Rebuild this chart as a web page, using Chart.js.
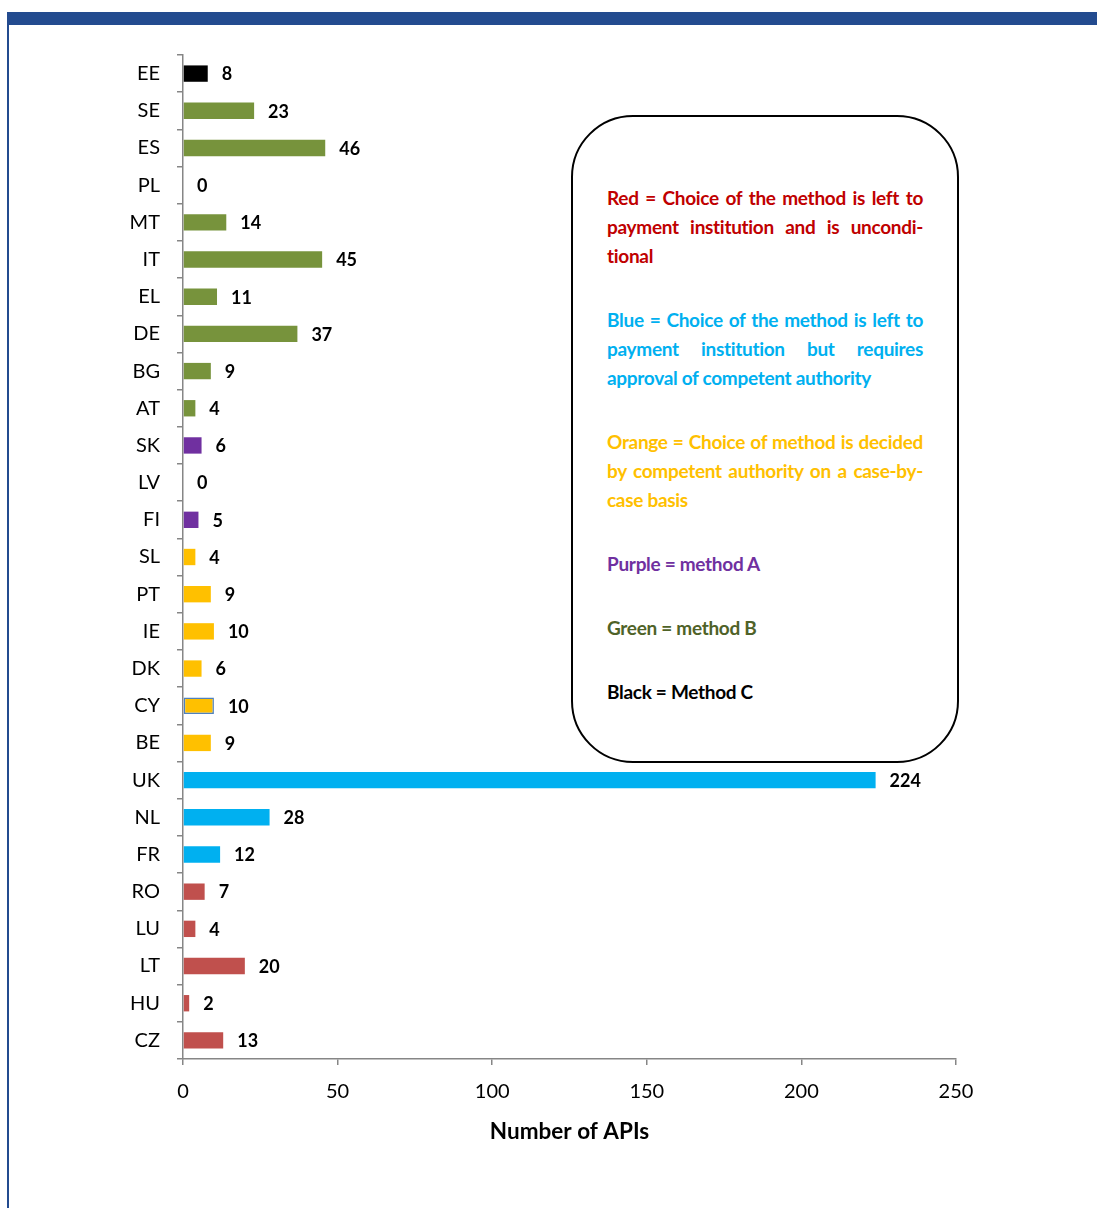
<!DOCTYPE html>
<html>
<head>
<meta charset="utf-8">
<script src="https://cdn.jsdelivr.net/npm/chart.js@4.4.1/dist/chart.umd.min.js"></script>
<style>
    body { margin: 0; background: #fff; }
    #wrap { position: relative; width: 1097px; height: 1208px; overflow: hidden; font-family: Lato, sans-serif; }
    #topBar { position: absolute; left: 7px; top: 12px; width: 1090px; height: 13px; background: #234B8F; }
    #leftBar { position: absolute; left: 7px; top: 12px; width: 2px; height: 1196px; background: #234B8F; }
    #chart { position: absolute; left: 0; top: 0; }
    #legendBox {
        position: absolute; left: 571px; top: 115px; width: 384px; height: 644px;
        border: 2px solid #000; border-radius: 62px; background: #fff;
    }
    #legendText {
        position: absolute; left: 34px; top: 66px; width: 316px;
        font-weight: bold; font-size: 19px; line-height: 29px; letter-spacing: -0.3px;
    }
    #legendText .para { margin-bottom: 35px; }
    #legendText .j { text-align: justify; text-align-last: justify; white-space: nowrap; }
    #legendText .l { white-space: nowrap; }
</style>
</head>
<body>
<div id="wrap">
    <canvas id="chart" width="1097" height="1208"></canvas>
    <div id="topBar"></div>
    <div id="leftBar"></div>
    <div id="legendBox">
        <div id="legendText">
            <div class="para" style="color:#C00000">
                <div class="j">Red = Choice of the method is left to</div>
                <div class="j">payment institution and is uncondi-</div>
                <div class="l">tional</div>
            </div>
            <div class="para" style="color:#00B0F0">
                <div class="j">Blue = Choice of the method is left to</div>
                <div class="j">payment institution but requires</div>
                <div class="l">approval of competent authority</div>
            </div>
            <div class="para" style="color:#FFC000">
                <div class="j">Orange = Choice of method is decided</div>
                <div class="j">by competent authority on a case-by-</div>
                <div class="l">case basis</div>
            </div>
            <div class="para" style="color:#7030A0">
                <div class="l">Purple = method A</div>
            </div>
            <div class="para" style="color:#4F6228">
                <div class="l">Green = method B</div>
            </div>
            <div class="para" style="color:#000000">
                <div class="l">Black = Method C</div>
            </div>
        </div>
    </div>
</div>
<script>
// Countries, top to bottom
const countries = ['EE', 'SE', 'ES', 'PL', 'MT', 'IT', 'EL', 'DE', 'BG', 'AT', 'SK', 'LV', 'FI', 'SL',
    'PT', 'IE', 'DK', 'CY', 'BE', 'UK', 'NL', 'FR', 'RO', 'LU', 'LT', 'HU', 'CZ'];

// Number of APIs per country
const apiCounts = [8, 23, 46, 0, 14, 45, 11, 37, 9, 4, 6, 0, 5, 4,
    9, 10, 6, 10, 9, 224, 28, 12, 7, 4, 20, 2, 13];

// Method group per country (decides the bar colour)
const methodGroups = ['black', 'green', 'green', 'green', 'green', 'green', 'green', 'green', 'green', 'green',
    'purple', 'purple', 'purple', 'orange', 'orange', 'orange', 'orange', 'orange', 'orange',
    'blue', 'blue', 'blue', 'red', 'red', 'red', 'red', 'red'];

const xTicks = [0, 50, 100, 150, 200, 250];

function getColorByGroup(group) {
    if (group === 'black') return '#000000';
    if (group === 'green') return '#77933C';
    if (group === 'purple') return '#7030A0';
    if (group === 'orange') return '#FFC000';
    if (group === 'blue') return '#00B0F0';
    return '#C0504D';
}

// CY bar has a thin blue outline in the original
const borderWidths = countries.map(c => c === 'CY' ? 1.5 : 0);

// Draws the value next to each bar
const valueLabels = {
    id: 'valueLabels',
    afterDatasetsDraw(chart) {
        const ctx = chart.ctx;
        const meta = chart.getDatasetMeta(0);
        ctx.save();
        ctx.font = 'bold 18px Lato';
        ctx.fillStyle = '#000';
        ctx.textBaseline = 'middle';
        ctx.textAlign = 'left';
        meta.data.forEach((bar, i) => {
            ctx.fillText(String(apiCounts[i]), bar.x + 14, bar.y + 1);
        });
        ctx.restore();
    }
};

window.onload = function () {
    const ctx = document.getElementById('chart').getContext('2d');
    new Chart(ctx, {
        type: 'bar',
        data: {
            labels: countries,
            datasets: [{
                data: apiCounts,
                backgroundColor: methodGroups.map(getColorByGroup),
                borderColor: '#4F81BD',
                borderWidth: borderWidths,
                borderSkipped: false,
                barPercentage: 0.44,
                categoryPercentage: 1
            }]
        },
        options: {
            indexAxis: 'y',
            responsive: false,
            devicePixelRatio: 1,
            animation: false,
            layout: { padding: { top: 55, right: 141, bottom: 0, left: 0 } },
            plugins: {
                legend: { display: false },
                tooltip: { enabled: false }
            },
            scales: {
                x: {
                    min: 0,
                    max: 250,
                    afterBuildTicks: (scale) => { scale.ticks = xTicks.map(v => ({ value: v })); },
                    afterFit: (scale) => { scale.height = 149; },
                    grid: { drawOnChartArea: false, drawTicks: true, tickLength: 6, color: '#868686', lineWidth: 1.5 },
                    border: { color: '#868686', width: 1.5 },
                    ticks: { color: '#000', font: { family: 'Lato', size: 20 }, padding: 15, maxRotation: 0 },
                    title: {
                        display: true,
                        text: 'Number of APIs',
                        color: '#000',
                        font: { family: 'Lato', size: 22.5, weight: 'bold' },
                        padding: { top: 0, bottom: 63 }
                    }
                },
                y: {
                    afterFit: (scale) => { scale.width = 183; },
                    grid: { drawOnChartArea: false, drawTicks: true, tickLength: 6, color: '#868686', lineWidth: 1.5, offset: true },
                    border: { color: '#868686', width: 1.5 },
                    ticks: { color: '#000', font: { family: 'Lato', size: 20 }, padding: 17, autoSkip: false }
                }
            }
        },
        plugins: [valueLabels]
    });
};
</script>
</body>
</html>
